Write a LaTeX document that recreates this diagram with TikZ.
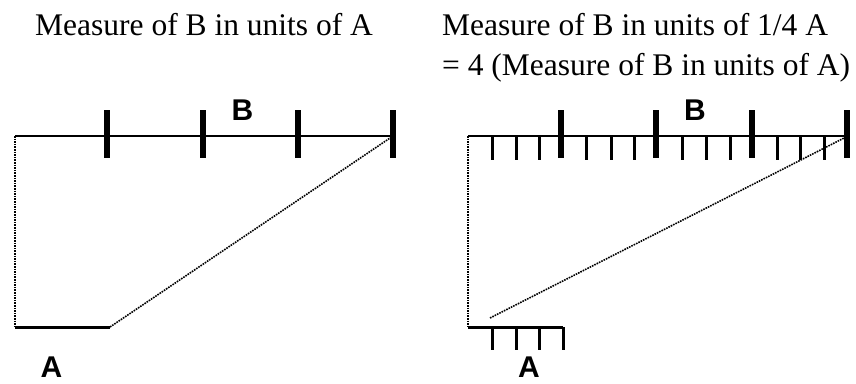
\documentclass[tikz,border=0pt]{standalone}
\usepackage{fontspec}
\setmainfont{Liberation Serif}
\newfontfamily\arialfont{Liberation Sans}
\begin{document}
\begin{tikzpicture}[x=1pt,y=-1pt,
  title/.style={anchor=base west,inner sep=0pt,font=\fontsize{31.5}{40}\selectfont},
  seglabel/.style={anchor=base,inner sep=0pt,font=\arialfont\bfseries\fontsize{30}{36}\selectfont},
  baseline/.style={line width=2pt},
  aline/.style={line width=3pt},
  guide/.style={line width=1.6pt,densely dotted,black},
  bigtick/.style={line width=5.5pt},
  smalltick/.style={line width=3pt}]
\useasboundingbox (0,0) rectangle (856,383);
% titles
\node[title] (t1) at (35,35) {Measure of B in units of A};
\node[title] (t2) at (442,35) {Measure of B in units of 1/4 A};
\node[title] (t3) at (442,75) {= 4 (Measure of B in units of A)};
% ---------------- left panel
\coordinate (LB0) at (15,136);
\coordinate (LB1) at (393,136);
\coordinate (LA0) at (15,327);
\coordinate (LA1) at (110,327);
\draw[baseline] (LB0) -- (LB1);
\draw[aline] (LA0) -- (LA1);
\draw[guide] (LB0) -- (LA0);
\draw[guide] (LA1) -- (LB1);
\foreach \x in {107,203,298,393} \draw[bigtick] (\x,110) -- (\x,158);
\node[seglabel] (LBl) at (242.5,120) {B};
\node[seglabel] (LAl) at (51.5,377) {A};
% ---------------- right panel
\coordinate (RB0) at (468,136);
\coordinate (RB1) at (848,136);
\coordinate (RA0) at (468,327);
\coordinate (RA1) at (563,327);
\coordinate (RD) at (490,318);
\draw[baseline] (RB0) -- (RB1);
\draw[aline] (RA0) -- (RA1);
\draw[guide] (RB0) -- (RA0);
\draw[guide] (RD) -- (RB1);
\foreach \x in {561,656,752,847} \draw[bigtick] (\x,110) -- (\x,158);
\foreach \x in {492,516,539,586,611,634,682,706,730,777,800,824} \draw[smalltick] (\x,136) -- (\x,160);
\foreach \x in {492,516,539,563} \draw[smalltick] (\x,327) -- (\x,350);
\node[seglabel] (RBl) at (695,120) {B};
\node[seglabel] (RAl) at (529,377) {A};
\end{tikzpicture}
\end{document}
